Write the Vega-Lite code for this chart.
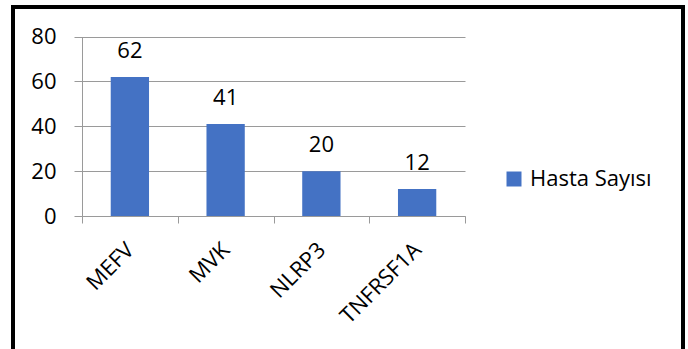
{
  "$schema": "https://vega.github.io/schema/vega-lite/v6.json",
  "width": 670,
  "height": 342,
  "autosize": {"type": "none"},
  "padding": {"left": 13, "top": 7, "right": 5, "bottom": 0},
  "background": "white",
  "config": {
    "view": {"stroke": "black", "strokeWidth": 4, "strokeDash": [1012, 670, 342], "strokeCap": "square"},
    "font": "Open Sans",
    "axis": {"labelFont": "Open Sans", "labelColor": "black", "labelFontSize": 22, "domainColor": "#9a9a9a", "tickColor": "#9a9a9a", "gridColor": "#9a9a9a", "domainWidth": 1, "tickWidth": 1, "gridWidth": 1}
  },
  "data": {"values": [
    {"gen": "MEFV", "hasta": 62, "seri": "Hasta Sayısı"},
    {"gen": "MVK", "hasta": 41, "seri": "Hasta Sayısı"},
    {"gen": "NLRP3", "hasta": 20, "seri": "Hasta Sayısı"},
    {"gen": "TNFRSF1A", "hasta": 12, "seri": "Hasta Sayısı"}
  ]},
  "encoding": {
    "x": {"field": "gen", "type": "nominal", "sort": null,
      "scale": {"range": [69, 452], "paddingInner": 0, "paddingOuter": 0},
      "axis": {"title": null, "labelAngle": -45, "labelAlign": "right", "labelBaseline": "middle", "labelPadding": 23, "ticks": true, "domain": true, "tickSize": 7, "tickBand": "extent", "offset": -133, "grid": false}},
    "y": {"field": "hasta", "type": "quantitative",
      "scale": {"domain": [0, 80], "range": [209, 29.5], "nice": false},
      "axis": {"title": null, "values": [0, 20, 40, 60, 80], "ticks": true, "domain": true, "tickSize": 8, "labelPadding": 18, "offset": -69, "grid": true}}
  },
  "layer": [
    {"mark": {"type": "bar", "color": "#4472C4", "width": {"band": 0.4}},
      "encoding": {"color": {"field": "seri", "type": "nominal",
        "scale": {"range": ["#4472C4"]},
        "legend": {"title": null, "orient": "none", "legendX": 490, "legendY": 161, "symbolType": "square", "symbolSize": 225, "symbolStrokeWidth": 0, "symbolFillColor": "#4472C4", "labelFontSize": 22, "labelFont": "Open Sans", "labelColor": "black", "labelOffset": 5, "padding": 0}}}},
    {"mark": {"type": "text", "fontSize": 22, "font": "Open Sans", "color": "black", "baseline": "alphabetic", "dy": -19},
      "encoding": {"text": {"field": "hasta", "type": "quantitative"}}}
  ]
}
